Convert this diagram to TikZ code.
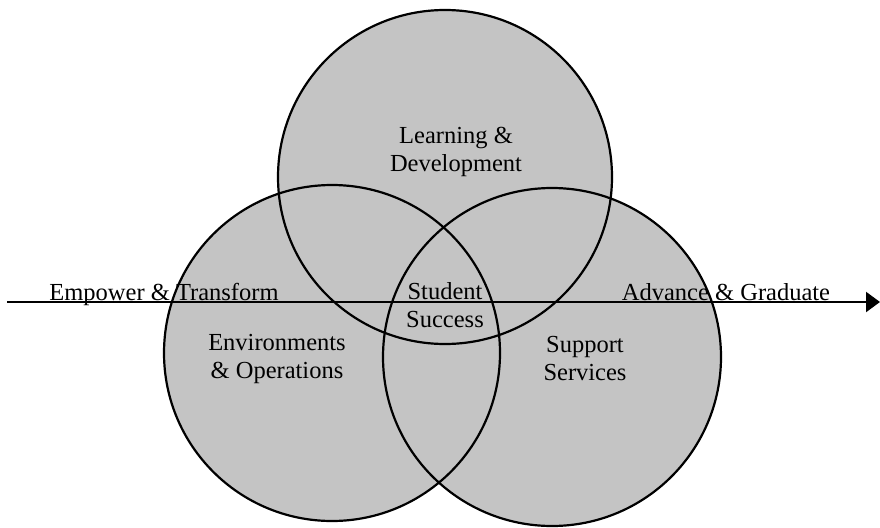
\documentclass[tikz,border=0pt]{standalone}
\usepackage{fontspec}
\setmainfont{Liberation Serif}
\usetikzlibrary{arrows.meta}

\begin{document}
\begin{tikzpicture}[
  x=1pt, y=-1pt,
  area/.style={fill=black!23},
  rim/.style={draw, line width=2.2pt},
  lbl/.style={align=center, font=\fontsize{24.5}{28}\selectfont, inner sep=0pt},
]
\useasboundingbox (0,0) rectangle (880,527);
% centres of the three circles
\coordinate (learn) at (445,177);
\coordinate (env) at (332,353);
\coordinate (supp) at (552,357);
\coordinate (s) at (7,302);
\coordinate (t) at (880,302);
% fill first, then outlines so every rim shows
\fill[area] (learn) circle[radius=167pt];
\fill[area] (env) circle[radius=168pt];
\fill[area] (supp) circle[radius=169pt];
\draw[rim] (learn) circle[radius=167pt];
\draw[rim] (env) circle[radius=168pt];
\draw[rim] (supp) circle[radius=169pt];
\draw[line width=2.2pt, -{Triangle[length=14pt,width=20pt]}] (s) -- (t);
% labels
\node[lbl] (ld) at (456,152) {Learning \&\\Development};
\node[lbl] (ss) at (445,305) {Student\\Success};
\node[lbl] (eo) at (277,359) {Environments\\\& Operations};
\node[lbl] (sv) at (585,359) {Support\\Services};
\node[lbl, anchor=base] (et) at (164,300) {Empower \& Transform};
\node[lbl, anchor=base] (ag) at (726,300) {Advance \& Graduate};
\end{tikzpicture}
\end{document}
